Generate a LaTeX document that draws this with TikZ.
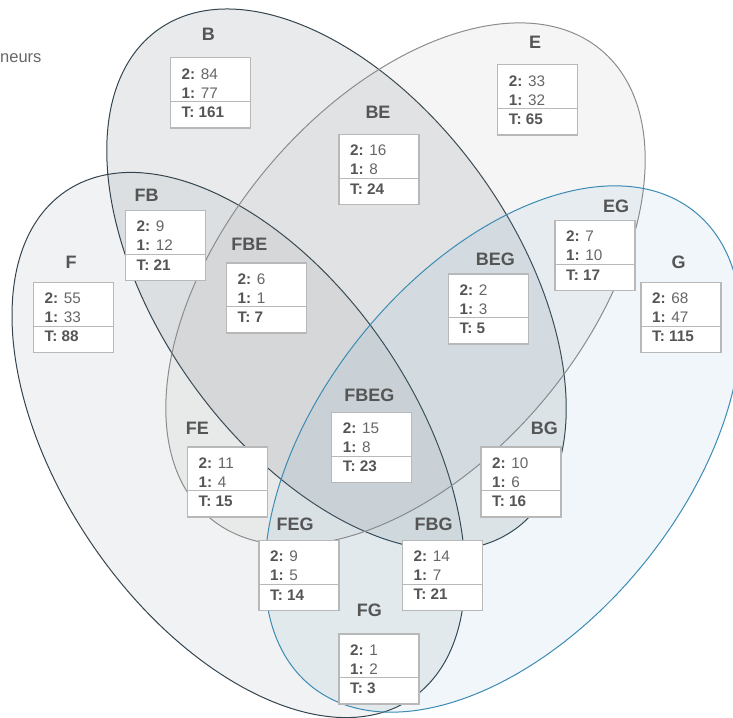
\documentclass[tikz,border=0pt]{standalone}
\usepackage{fontspec}
\setmainfont{Liberation Sans}
\usepackage{tikz}
\definecolor{slate}{HTML}{34444F}
\definecolor{setgray}{HTML}{8C8C8C}
\definecolor{setblue}{HTML}{3B8BB5}
\definecolor{boxline}{HTML}{B8B8B8}
\definecolor{txtgray}{HTML}{555555}
\definecolor{valgray}{HTML}{666666}

\tikzset{
  setline/.style={line width=1pt},
  countbox/.style={draw=boxline, line width=1.2pt, fill=white, minimum width=80pt, minimum height=70pt, inner sep=0pt, anchor=north west},
  setlabel/.style={anchor=base, text=txtgray, font=\fontsize{18}{20}\selectfont\bfseries, inner sep=0pt},
  countline/.style={anchor=base west, text=valgray, font=\fontsize{15.3}{17}\selectfont, inner sep=0pt},
}

\begin{document}
\begin{tikzpicture}[x=1pt, y=-1pt]
		\useasboundingbox (0,0) rectangle (733,717);
		% the four sets
		\draw[setline, draw=slate, fill=slate, fill opacity=0.07, rotate around={-55.7:(238.5,445)}] (238.5,445) ellipse (307 and 177);
		\draw[setline, draw=slate, fill=slate, fill opacity=0.11, rotate around={-54.5:(336.5,279.5)}] (336.5,279.5) ellipse (307 and 178);
		\draw[setline, draw=setgray, fill=setgray, fill opacity=0.09, rotate around={50.1:(405.5,284)}] (405.5,284) ellipse (305 and 180.5);
		\draw[setline, draw=setblue, fill=setblue, fill opacity=0.08, rotate around={51:(503,449)}] (503,449) ellipse (305 and 181.5);
		
		% legend (cut off)
		\node[anchor=base east, text=valgray, font=\fontsize{16.5}{18}\selectfont, inner sep=0pt] (legend) at (41.7,63) {neurs};
		
		% labels and counts:
		\foreach \nm/\lx/\ly/\bx/\by/\two/\one/\tot in {
			B/208.3/40.7/169.7/57.3/84/77/161,
			E/535/48.3/497/64.3/33/32/65,
			BE/378/118.3/338.3/134/16/8/24,
			FB/146.7/201/124.7/210/9/12/21,
			F/71/268.3/32.7/281.7/55/33/88,
			FBE/249.3/250.7/225.7/262.3/6/1/7,
			EG/616/212.3/554.3/220/7/10/17,
			BEG/495.3/265/447.7/273.3/2/3/5,
			G/678.7/268.3/640.3/281.7/68/47/115,
			FBEG/369.3/401.7/331/411.7/15/8/23,
			FE/197.3/434/186.7/446.3/11/4/15,
			BG/544.3/434/480.3/446.3/10/6/16,
			FEG/295/530.3/258.3/540/9/5/14,
			FBG/433.7/530.7/401.7/539.7/14/7/21,
			FG/369.3/616.7/338.3/633.3/1/2/3}{
			\node[setlabel] (l\nm) at (\lx,\ly) {\nm};
			\node[countbox] (\nm) at (\bx,\by) {};
			\draw[draw=boxline, line width=1.2pt] ([yshift=-44.4pt]\nm.north west) -- ([yshift=-44.4pt]\nm.north east);
			\node[countline] (\nm-2) at (\bx+11.7,\by+21.7) {\textcolor{txtgray}{\bfseries 2:} \two};
			\node[countline] (\nm-1) at (\bx+11.7,\by+40.7) {\textcolor{txtgray}{\bfseries 1:} \one};
			\node[countline, text=txtgray, font=\fontsize{15.3}{17}\selectfont\bfseries] (\nm-t) at (\bx+11.7,\by+60) {T: \tot};
		}
	\end{tikzpicture}
\end{document}
